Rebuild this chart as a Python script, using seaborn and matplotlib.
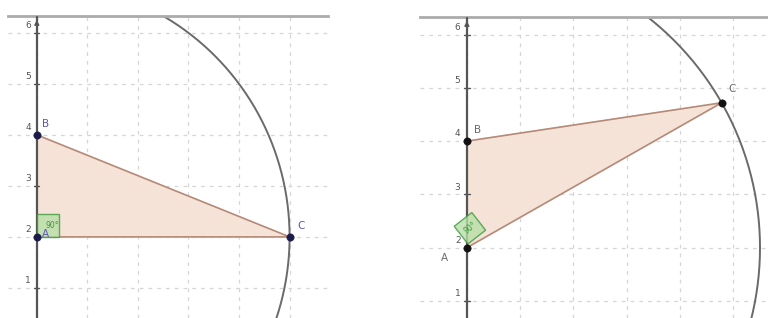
import numpy as np
import pandas as pd
import matplotlib
matplotlib.use("Agg")
import matplotlib.pyplot as plt
import seaborn as sns

sns.set_style("white")
plt.rcParams['font.family'] = ['DejaVu Sans']

# ---- data ----
y_ticks = [1, 2, 3, 4, 5, 6]
point_names = ["A", "B", "C"]
left_x = [0.0, 0.0, 5.0]
left_y = [2.0, 4.0, 2.0]
left_radius = 5.0
right_x = [0.0, 0.0, 4.78]
right_y = [2.0, 4.0, 4.72]
right_radius = 5.5
angle_label = "90°"

W, H = 768, 318
fig = plt.figure(figsize=(W / 100, H / 100), dpi=100)

def make_ax(px0, px1, py0, py1, xlim, ylim):
    ax = fig.add_axes([px0 / W, 1 - py1 / H, (px1 - px0) / W, (py1 - py0) / H])
    ax.set_xlim(*xlim)
    ax.set_ylim(*ylim)
    for s in ["left", "right", "bottom"]:
        ax.spines[s].set_visible(False)
    ax.spines["top"].set_color("#ababab")
    ax.spines["top"].set_linewidth(2.0)
    ax.set_xticks([])
    ax.set_yticks([])
    for gx in range(0, 7):
        ax.axvline(gx, color="#d6d6d6", lw=0.9, ls=(0, (3, 4)), zorder=0)
    for gy in y_ticks:
        ax.axhline(gy, color="#d6d6d6", lw=0.9, ls=(0, (3, 4)), zorder=0)
    return ax

def draw_panel(ax, xs, ys, r, label_color, point_color, label_offsets, ylim):
    ax.plot([0, 0], [ylim[0], ylim[1] - 0.02], color="#555555", lw=1.6, zorder=3)
    ax.annotate("", xy=(0, ylim[1] - 0.02), xytext=(0, ylim[1] - 0.25),
                arrowprops=dict(arrowstyle="-|>", color="#555555", lw=1.0,
                                mutation_scale=7), zorder=3)
    for t in y_ticks:
        ax.plot([-0.05, 0.05], [t, t], color="#555555", lw=1.0, zorder=3)
        ax.text(-0.12, t + 0.05, str(t), ha="right", va="bottom",
                fontsize=6.5, color="#555555")
    th = np.linspace(0, 2 * np.pi, 800)
    ax.plot(xs[0] + r * np.cos(th), ys[0] + r * np.sin(th),
            color="#6a6a6a", lw=1.4, zorder=2)
    ax.fill(xs, ys, color="#f5e3d8", zorder=1)
    ax.plot(xs + [xs[0]], ys + [ys[0]], color="#b58a78", lw=1.2, zorder=2)
    df = pd.DataFrame({"x": xs, "y": ys, "name": point_names})
    sns.scatterplot(data=df, x="x", y="y", ax=ax, color=point_color, s=28,
                    edgecolor=point_color, zorder=5, legend=False)
    for (nx, ny), name, (dx, dy) in zip(zip(xs, ys), point_names, label_offsets):
        ax.text(nx + dx, ny + dy, name, fontsize=7.5, color=label_color,
                ha="center", va="center", zorder=6)
    ax.set_xlabel("")
    ax.set_ylabel("")

# left panel
ylimL = (0.41, 6.33)
axL = make_ax(8, 328, 16, 318, (-0.57, 5.76), ylimL)
draw_panel(axL, left_x, left_y, left_radius, "#5a5ab4", "#1c1c4a",
           [(0.18, 0.05), (0.18, 0.22), (0.22, 0.22)], ylimL)
axL.add_patch(plt.Rectangle((0, 2), 0.44, 0.44, facecolor="#b8e0a8",
                            edgecolor="#3c9a3c", lw=1.0, alpha=0.8, zorder=4))
axL.text(0.3, 2.22, angle_label, fontsize=5.5, color="#3c9a3c",
         ha="center", va="center", zorder=6)
axL.set_xticks([]); axL.set_yticks([])
axL.set_xlim(-0.57, 5.76); axL.set_ylim(*ylimL)

# right panel
ylimR = (0.68, 6.33)
axR = make_ax(420, 768, 17, 318, (-0.88, 5.65), ylimR)
draw_panel(axR, right_x, right_y, right_radius, "#6a6a6a", "#111111",
           [(-0.42, -0.2), (0.2, 0.2), (0.2, 0.25)], ylimR)
ang_u = np.deg2rad(38)
u = np.array([np.cos(ang_u), np.sin(ang_u)])
v = np.array([np.cos(ang_u + np.pi / 2), np.sin(ang_u + np.pi / 2)])
s = 0.42
o = np.array([0.02, 2.07])
sq = np.array([o, o + s * u, o + s * u + s * v, o + s * v])
axR.add_patch(plt.Polygon(sq, closed=True, facecolor="#b8e0a8",
                          edgecolor="#3c9a3c", lw=1.0, alpha=0.8, zorder=4))
cen = sq.mean(axis=0)
axR.text(cen[0], cen[1], angle_label, fontsize=5.5, color="#3c9a3c",
         ha="center", va="center", rotation=38, zorder=6)
axR.set_xticks([]); axR.set_yticks([])
axR.set_xlim(-0.88, 5.65); axR.set_ylim(*ylimR)

fig.savefig("out.png", dpi=100, facecolor="white")
